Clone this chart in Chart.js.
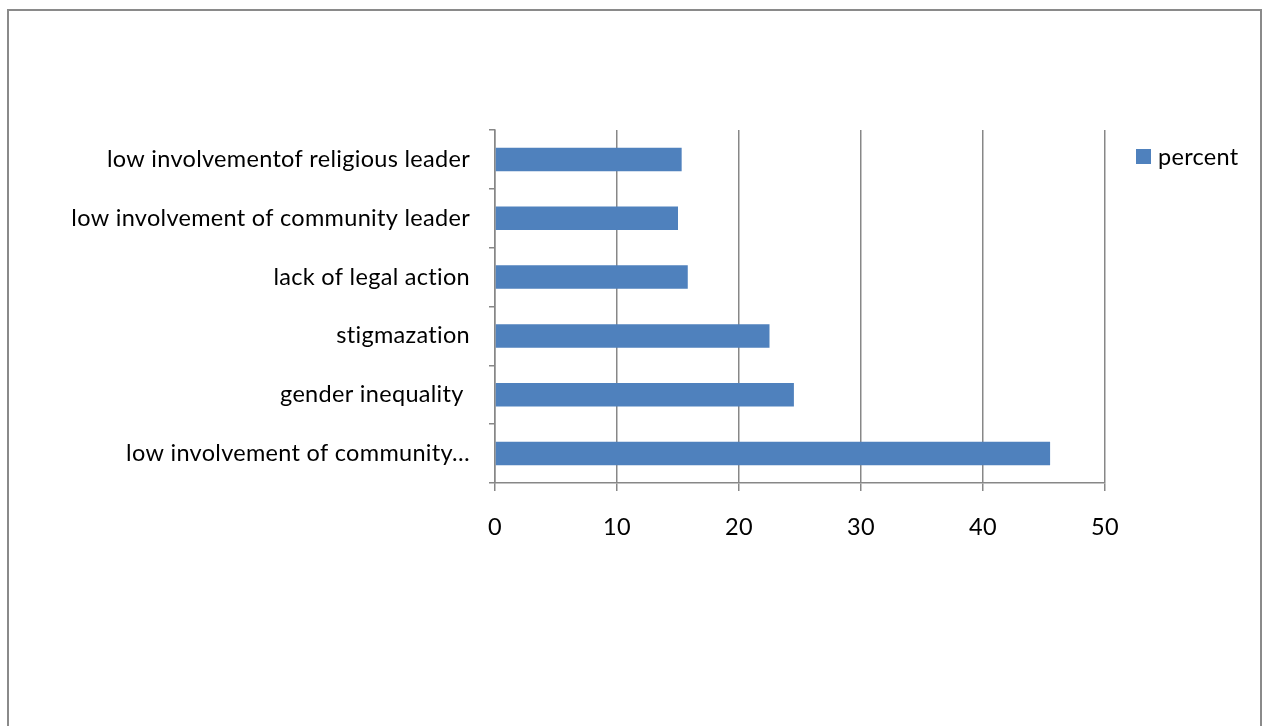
<!DOCTYPE html>
<html>
<head>
<meta charset="utf-8">
<script src="https://cdn.jsdelivr.net/npm/chart.js@4.4.1/dist/chart.umd.min.js"></script>
<style>
  html, body { margin: 0; padding: 0; background: #ffffff; }
  body { width: 1262px; height: 726px; overflow: hidden; position: relative; }
  #frame { position: absolute; left: 7px; top: 9px; width: 1255px; height: 760px;
           border: 2px solid #8a8a8a; box-sizing: border-box; }
  #c { position: absolute; left: 0; top: 0; }
</style>
</head>
<body>
<div id="frame"></div>
<canvas id="c" width="1262" height="726"></canvas>
<script>
const categories = [
  "low involvementof religious leader",
  "low involvement of community leader",
  "lack of legal action",
  "stigmazation",
  "gender inequality ",
  "low involvement of community\u2026"
];
const seriesName = "percent";
const percentValues = [15.3, 15.0, 15.8, 22.5, 24.5, 45.5];
const xTickMin = 0, xTickMax = 50, xTickStep = 10;

const FONT = { family: "Lato", size: 23.5 };
const BAR = "#4F81BD";
const GRID = "#878787";

const spacingPlugin = {
  id: "letterSpacing",
  beforeDraw(chart) {
    chart.ctx.letterSpacing = "0.3px";
  }
};

const legendPlugin = {
  id: "manualLegend",
  afterDraw(chart) {
    const ctx = chart.ctx;
    const ds = chart.data.datasets[0];
    ctx.save();
    ctx.letterSpacing = "0.3px";
    ctx.fillStyle = ds.backgroundColor;
    ctx.fillRect(1136, 149, 15, 15);
    ctx.fillStyle = "#000";
    ctx.font = FONT.size + "px " + FONT.family;
    ctx.textBaseline = "middle";
    ctx.textAlign = "left";
    ctx.fillText(ds.label, 1158, 157);
    ctx.restore();
  }
};

new Chart(document.getElementById("c"), {
  type: "bar",
  data: {
    labels: categories,
    datasets: [{
      label: seriesName,
      data: percentValues,
      backgroundColor: BAR,
      borderWidth: 0,
      categoryPercentage: 1.0,
      barPercentage: 0.4
    }]
  },
  options: {
    indexAxis: "y",
    responsive: false,
    animation: false,
    devicePixelRatio: 1,
    layout: { padding: { left: 0, right: 157, top: 130, bottom: 0 } },
    plugins: { legend: { display: false }, tooltip: { enabled: false } },
    scales: {
      y: {
        offset: true,
        afterFit(scale) { scale.width = 495; },
        grid: { display: true, drawOnChartArea: false, drawTicks: true, tickLength: 6,
                color: GRID, lineWidth: 1.5, offset: true },
        border: { display: true, color: GRID, width: 1.5 },
        ticks: { color: "#000", font: FONT, padding: 19, autoSkip: false }
      },
      x: {
        min: xTickMin, max: xTickMax,
        afterFit(scale) { scale.height = 726 - 483; },
        grid: { display: true, drawOnChartArea: true, drawTicks: true, tickLength: 8,
                color: GRID, lineWidth: 1.5 },
        border: { display: true, color: GRID, width: 1.5 },
        ticks: { stepSize: xTickStep, color: "#000", font: FONT, padding: 22 }
      }
    }
  },
  plugins: [spacingPlugin, legendPlugin]
});
</script>
</body>
</html>
